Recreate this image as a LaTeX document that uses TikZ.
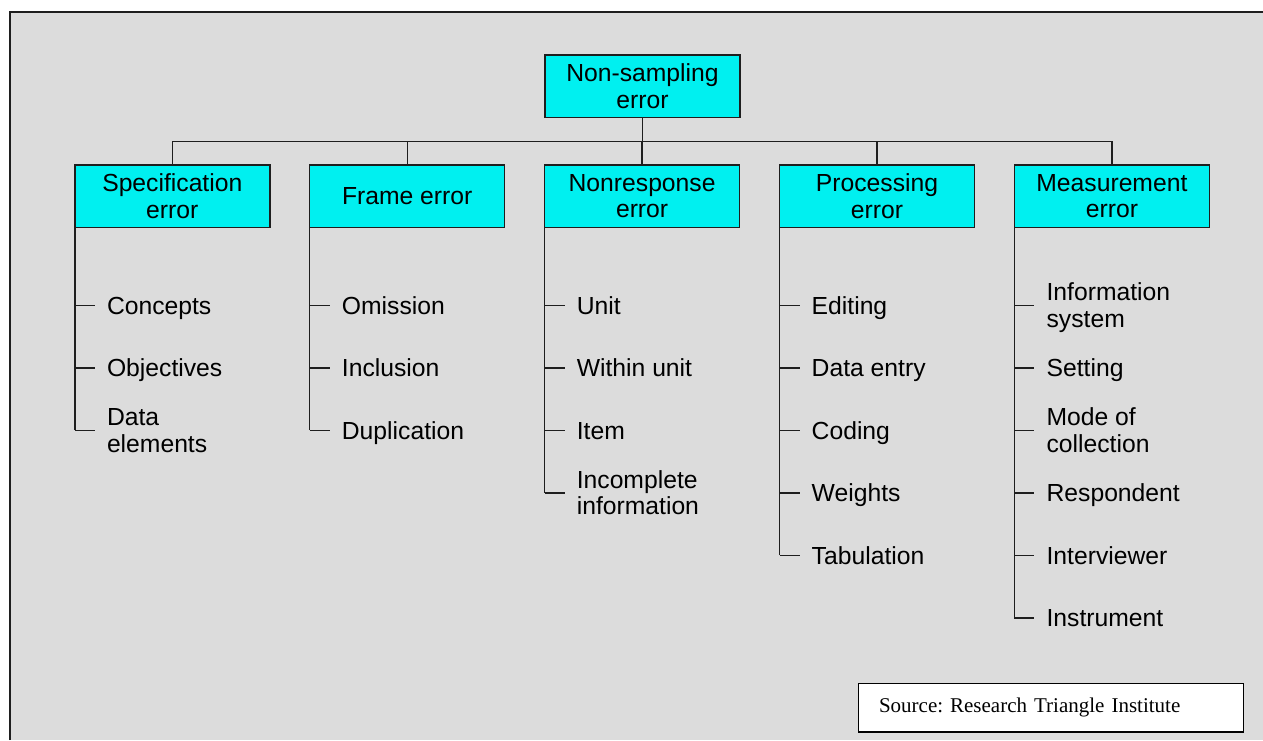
\documentclass[tikz,border=0pt]{standalone}
\usepackage{fontspec}
\setmainfont{Liberation Sans}
\newfontfamily\sourcefont{Liberation Serif}
\usetikzlibrary{calc}
\definecolor{panel}{RGB}{220,220,220}
\definecolor{boxcyan}{RGB}{0,240,240}
\definecolor{ink}{RGB}{30,30,30}
\frenchspacing
\begin{document}
\begin{tikzpicture}[x=1pt,y=-1pt,
  every node/.style={font=\fontsize{24.7}{26.7}\selectfont},
  errbox/.style={draw=ink, line width=1.4pt, fill=boxcyan, minimum width=195pt,
    minimum height=62.5pt, inner sep=0pt, outer sep=0pt, align=center},
  link/.style={draw=ink, line width=1.4pt},
  item/.style={anchor=base west, inner sep=0pt, align=left, xshift=32pt, yshift=-8.75pt},
  item2/.style={item, yshift=-13.35pt},
  srcbox/.style={draw=black, line width=1.6pt, fill=white, anchor=north west,
    minimum height=48.4pt, text width=343.6pt, inner xsep=20.7pt, inner ysep=0pt,
    outer sep=0pt, align=left, font=\sourcefont\fontsize{21}{25}\selectfont},
]
\useasboundingbox (0,0) rectangle (1263,740);
\fill[white] (0,0) rectangle (1263,740);
\fill[panel] (10.3,11.7) rectangle (1263,740);
\draw[line width=2pt, ink] (10.3,740) -- (10.3,11.7) -- (1263,11.7);

% root and the five error types
\node[errbox] (ns) at (642.5,86.4) {Non-sampling\\error};
\node[errbox] (spec) at (172.3,196.2) {Specification\\error};
\node[errbox] (frame) at (407.2,196.2) {Frame error};
\node[errbox] (nonresp) at (642.1,196.2) {Nonresponse\\error};
\node[errbox] (proc) at (877.0,196.2) {Processing\\error};
\node[errbox] (meas) at (1111.9,196.2) {Measurement\\error};

% bus from the root to each error type
\coordinate (bus) at (642.5,141.7);
\draw[link] (ns.south) -- (bus);
\draw[link] (spec.north) |- (bus) -| (meas.north);
\foreach \b in {frame,nonresp,proc}
  \draw[link] (\b.north) -- (\b.north |- bus);

% tick positions below each box
\foreach \b/\n in {spec/3,frame/3,nonresp/4,proc/5,meas/6}{
  \foreach \k in {1,...,\n}
    \coordinate (\b-t\k) at ($(\b.south west)+(0,15.35+62.5*\k)$);
  \draw[link] (\b.south west) -- (\b-t\n);
  \foreach \k in {1,...,\n}
    \draw[link] (\b-t\k) -- ++(20,0);
}

% sources of each error type
\node[item]  (spec-1) at (spec-t1) {Concepts};
\node[item]  (spec-2) at (spec-t2) {Objectives};
\node[item2] (spec-3) at (spec-t3) {Data\\elements};

\node[item] (frame-1) at (frame-t1) {Omission};
\node[item] (frame-2) at (frame-t2) {Inclusion};
\node[item] (frame-3) at (frame-t3) {Duplication};

\node[item]  (nonresp-1) at (nonresp-t1) {Unit};
\node[item]  (nonresp-2) at (nonresp-t2) {Within unit};
\node[item]  (nonresp-3) at (nonresp-t3) {Item};
\node[item2] (nonresp-4) at (nonresp-t4) {Incomplete\\information};

\node[item] (proc-1) at (proc-t1) {Editing};
\node[item] (proc-2) at (proc-t2) {Data entry};
\node[item] (proc-3) at (proc-t3) {Coding};
\node[item] (proc-4) at (proc-t4) {Weights};
\node[item] (proc-5) at (proc-t5) {Tabulation};

\node[item2] (meas-1) at (meas-t1) {Information\\system};
\node[item]  (meas-2) at (meas-t2) {Setting};
\node[item2] (meas-3) at (meas-t3) {Mode of\\collection};
\node[item]  (meas-4) at (meas-t4) {Respondent};
\node[item]  (meas-5) at (meas-t5) {Interviewer};
\node[item]  (meas-6) at (meas-t6) {Instrument};

% source note
\node[srcbox] (src) at (858.3,683.3) {Source: Research Triangle Institute};
\end{tikzpicture}
\end{document}
